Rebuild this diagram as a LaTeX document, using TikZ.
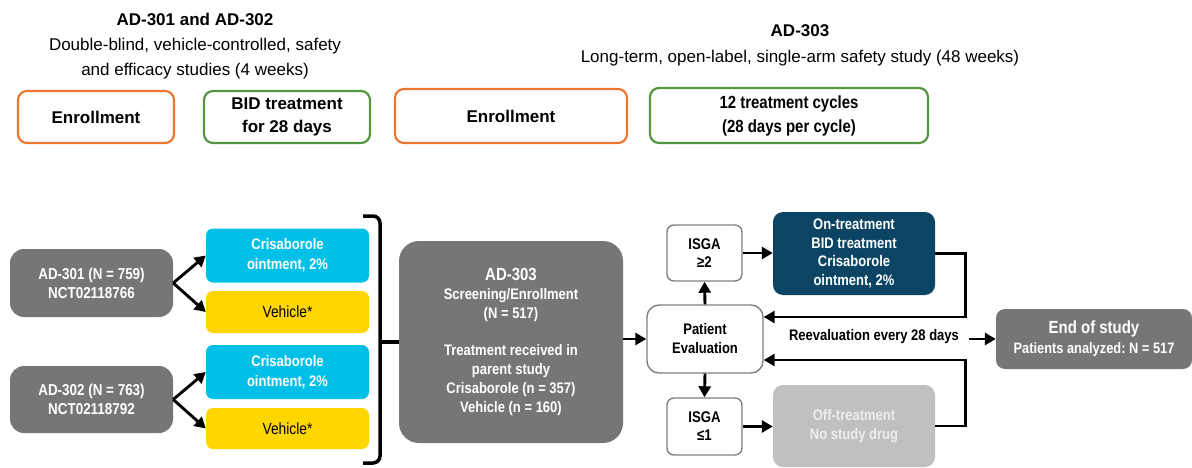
\documentclass[tikz,border=0pt]{standalone}
\usepackage{fontspec}
\setmainfont{Liberation Sans}
\newfontfamily\nf{Liberation Sans}[FakeStretch=0.85]
\frenchspacing
\usetikzlibrary{arrows.meta,calc}
\definecolor{orangeA}{RGB}{237,118,50}
\definecolor{greenA}{RGB}{84,150,66}
\definecolor{grayA}{RGB}{118,118,118}
\definecolor{grayB}{RGB}{192,192,192}
\definecolor{grayC}{RGB}{128,128,128}
\definecolor{cyanA}{RGB}{0,192,232}
\definecolor{yellowA}{RGB}{255,214,0}
\definecolor{navyA}{RGB}{12,68,100}
\begin{document}
\begin{tikzpicture}[x=1pt,y=-1pt,
  topbox/.style={draw, line width=2.2pt, rounded corners=9pt, fill=white, align=center,
    font=\bfseries\fontsize{17}{23}\selectfont, inner sep=0pt},
  gbox/.style={fill=grayA, text=white, align=center, inner sep=0pt,
    font=\nf\bfseries\fontsize{15.8}{19}\selectfont, rounded corners=14pt},
  cribox/.style={fill=cyanA, text=white, align=center, inner sep=0pt,
    font=\nf\bfseries\fontsize{15.3}{20}\selectfont, rounded corners=7pt,
    minimum width=163pt, minimum height=54pt},
  vehbox/.style={fill=yellowA, text=black, align=center, inner sep=0pt,
    font=\nf\fontsize{16.2}{18}\selectfont, rounded corners=7pt,
    minimum width=163pt, minimum height=42pt},
  wbox/.style={draw=grayC, line width=1.4pt, fill=white, align=center, inner sep=0pt,
    font=\nf\bfseries\fontsize{15.5}{18}\selectfont, rounded corners=7pt},
  arr/.style={line width=2.9pt, -{Triangle[length=11pt,width=12pt]}},
  loopline/.style={line width=2.9pt, line join=miter, -{Triangle[length=11pt,width=12pt]}}
]
\useasboundingbox (0,0) rectangle (1192,468);

% headers
\node[font=\fontsize{17}{25}\selectfont, align=center] (h1) at (195,46)
  {\textbf{AD-301 and AD-302}\\Double-blind, vehicle-controlled, safety\\and efficacy studies (4 weeks)};
\node[font=\fontsize{17}{26}\selectfont, align=center] (h2) at (800,45)
  {\textbf{AD-303}\\Long-term, open-label, single-arm safety study (48 weeks)};

% top boxes
\node[topbox, draw=orangeA, minimum width=156pt, minimum height=52pt] (enr1) at (96,117) {Enrollment};
\node[topbox, draw=greenA, minimum width=166pt, minimum height=52pt] (bid) at (287,117) {BID treatment\\for 28 days};
\node[topbox, draw=orangeA, minimum width=232pt, minimum height=54pt] (enr2) at (511,116) {Enrollment};
\node[topbox, draw=greenA, minimum width=278pt, minimum height=55pt,
  font=\nf\bfseries\fontsize{17.6}{24}\selectfont] (cyc) at (789,115.5) {12 treatment cycles\\ (28 days per cycle)};

% left part
\node[gbox, minimum width=163pt, minimum height=68pt] (ad301) at (91.5,283) {AD-301 (N = 759)\\NCT02118766};
\node[gbox, minimum width=163pt, minimum height=67pt] (ad302) at (91.5,399.5) {AD-302 (N = 763)\\NCT02118792};
\node[cribox] (cri1) at (287.5,255.5) {Crisaborole\\ointment, 2\%};
\node[vehbox] (veh1) at (287.5,312) {Vehicle*};
\node[cribox] (cri2) at (287.5,372) {Crisaborole\\ointment, 2\%};
\node[vehbox, minimum height=41pt] (veh2) at (287.5,428.5) {Vehicle*};

\draw[arr] (ad301.east) -- (cri1.west);
\draw[arr] (ad301.east) -- (veh1.west);
\draw[arr] (ad302.east) -- (cri2.west);
\draw[arr] (ad302.east) -- (veh2.west);

% AD-303 box
\node[gbox, minimum width=224pt, minimum height=202pt, rounded corners=20pt,
  font=\nf\bfseries\fontsize{15.3}{19}\selectfont] (ad303) at (511,342)
  {{\fontsize{17.6}{19}\selectfont AD-303}\\Screening/Enrollment\\(N = 517)\\[18pt]Treatment received in\\parent study\\Crisaborole (n = 357)\\Vehicle (n = 160)};

% brace
\coordinate (bt) at (363,216);
\coordinate (bb) at (363,463);
\draw[line width=3.5pt, rounded corners=7pt] (bt) -- (380,216) -- (380,463) -- (bb);
\draw[line width=3.5pt] (380,342) -- (ad303.west);

% right part
\node[wbox, minimum width=116pt, minimum height=68pt, rounded corners=12pt,
  font=\nf\bfseries\fontsize{15.3}{19}\selectfont] (pe) at (705,339) {Patient\\Evaluation};
\node[wbox, minimum width=75pt, minimum height=56pt] (isga2) at (704.5,253) {ISGA\\≥2};
\node[wbox, minimum width=75pt, minimum height=57pt] (isga1) at (704.5,426.5) {ISGA\\≤1};
\node[fill=navyA, text=white, align=center, inner sep=0pt, rounded corners=10pt,
  font=\nf\bfseries\fontsize{15.3}{18.5}\selectfont, minimum width=162pt, minimum height=83pt] (on) at (854,253.5)
  {On-treatment\\BID treatment\\Crisaborole\\ointment, 2\%};
\node[fill=grayB, text=white!93!black, align=center, inner sep=0pt, rounded corners=10pt,
  font=\nf\bfseries\fontsize{15.3}{19}\selectfont, minimum width=162pt, minimum height=82pt] (off) at (854,426)
  {Off-treatment\\No study drug};
\node[gbox, minimum width=196pt, minimum height=60pt, rounded corners=9pt,
  font=\nf\bfseries\fontsize{15.1}{20}\selectfont] (eos) at (1094,339)
  {{\fontsize{17.6}{20}\selectfont End of study}\\Patients analyzed: N = 517};
\node[font=\nf\bfseries\fontsize{15.3}{16}\selectfont, inner sep=0pt] (reev) at (874,337) {Reevaluation every 28 days};

\draw[arr] (ad303.east |- pe.west) -- (pe.west);
\draw[arr] (pe.north) -- (isga2.south);
\draw[arr] (pe.south) -- (isga1.north);
\draw[arr] (isga2.east) -- (isga2.east -| on.west);
\draw[arr] (isga1.east) -- (isga1.east -| off.west);
\draw[loopline] (on.east) -- ++(30,0) |- ($(pe.east)+(0,-22)$);
\draw[loopline] (off.east) -- ++(30,0) |- ($(pe.east)+(0,21)$);
\draw[arr, shorten <=10pt] (reev.east |- eos.west) -- (eos.west);
\end{tikzpicture}
\end{document}
